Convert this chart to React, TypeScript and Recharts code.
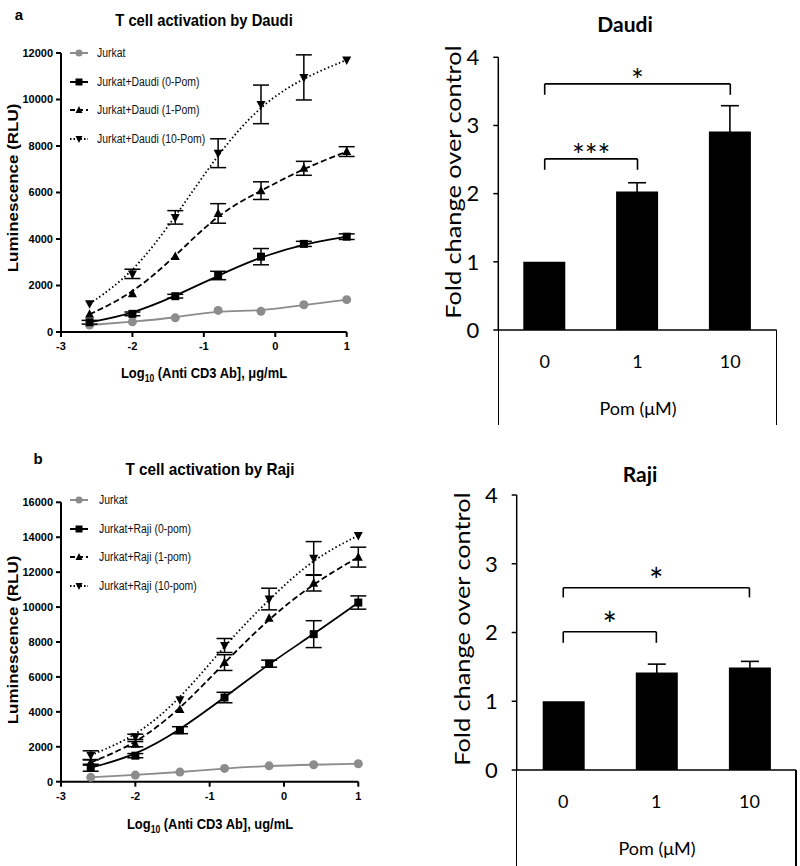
import React from 'react';
import { ComposedChart, Line, XAxis, YAxis, ErrorBar, Bar, ReferenceLine } from 'recharts';

// ---------- data ----------
const logDose = [-2.6, -2, -1.4, -0.8, -0.2, 0.4, 1];
const doseTicks = [-3, -2, -1, 0, 1];

const daudiJurkat = [300, 440, 610, 930, 890, 1170, 1390];
const daudiPom0 = [420, 780, 1540, 2430, 3240, 3790, 4100];
const daudiPom0Err = [80, 80, 80, 180, 350, 110, 120];
const daudiPom1 = [760, 1640, 3250, 5100, 6080, 7040, 7760];
const daudiPom1Err = [0, 0, 0, 420, 380, 300, 210];
const daudiPom10 = [1210, 2500, 4930, 7690, 9790, 10950, 11700];
const daudiPom10Err = [0, 200, 290, 620, 830, 970, 0];
const daudiYTicks = [0, 2000, 4000, 6000, 8000, 10000, 12000];

const rajiJurkat = [250, 380, 550, 760, 910, 970, 1030];
const rajiPom0 = [800, 1490, 2950, 4820, 6760, 8450, 10260];
const rajiPom0Err = [200, 120, 200, 300, 200, 770, 380];
const rajiPom1 = [1100, 2150, 4130, 6820, 9360, 11370, 12860];
const rajiPom1Err = [150, 150, 0, 450, 0, 450, 570];
const rajiPom10 = [1520, 2570, 4700, 7800, 10460, 12800, 14100];
const rajiPom10Err = [250, 150, 0, 400, 620, 950, 0];
const rajiYTicks = [0, 2000, 4000, 6000, 8000, 10000, 12000, 14000, 16000];

const daudiLegend = ['Jurkat', 'Jurkat+Daudi (0-Pom)', 'Jurkat+Daudi (1-Pom)', 'Jurkat+Daudi (10-Pom)'];
const rajiLegend = ['Jurkat', 'Jurkat+Raji (0-pom)', 'Jurkat+Raji (1-pom)', 'Jurkat+Raji (10-pom)'];

const pomDoses = ['0', '1', '10'];
const daudiFold = [1.0, 2.03, 2.91];
const daudiFoldErr = [0, 0.13, 0.38];
const rajiFold = [1.0, 1.42, 1.49];
const rajiFoldErr = [0, 0.12, 0.09];
const foldTicks = [0, 1, 2, 3, 4];

const daudiBrackets = [
  { from: '0', to: '1', y: 2.51, drop: 0.16, mark: '***' },
  { from: '0', to: '10', y: 3.61, drop: 0.16, mark: '*' },
];
const rajiBrackets = [
  { from: '0', to: '1', y: 2.01, drop: 0.16, mark: '*' },
  { from: '0', to: '10', y: 2.65, drop: 0.14, mark: '*' },
];

const buildDose = (j: number[], p0: number[], e0: number[], p1: number[], e1: number[], p10: number[], e10: number[]) =>
  logDose.map((x, i) => ({ x, j: j[i], p0: p0[i], e0: e0[i], p1: p1[i], e1: e1[i], p10: p10[i], e10: e10[i] }));

const daudiData = buildDose(daudiJurkat, daudiPom0, daudiPom0Err, daudiPom1, daudiPom1Err, daudiPom10, daudiPom10Err);
const rajiData = buildDose(rajiJurkat, rajiPom0, rajiPom0Err, rajiPom1, rajiPom1Err, rajiPom10, rajiPom10Err);
const daudiBars = pomDoses.map((d, i) => ({ d, v: daudiFold[i], e: daudiFoldErr[i] }));
const rajiBars = pomDoses.map((d, i) => ({ d, v: rajiFold[i], e: rajiFoldErr[i] }));

// ---------- styles ----------
const GRAY = '#8c8c8c';
const ARIAL = '"Liberation Sans", Arial, sans-serif';
const LATO = 'Lato, "Open Sans", sans-serif';

const mkDot = (kind: string) => (p: any) => {
  const { cx, cy, index } = p;
  const k = `${kind}-${index}`;
  if (cx == null || cy == null) return <g key={k} />;
  if (kind === 'circle') return <circle key={k} cx={cx} cy={cy} r={4.5} fill={GRAY} />;
  if (kind === 'square') return <rect key={k} x={cx - 4} y={cy - 4} width={8} height={8} fill="#000" />;
  if (kind === 'up') return <polygon key={k} points={`${cx},${cy - 5} ${cx - 4.5},${cy + 3.5} ${cx + 4.5},${cy + 3.5}`} fill="#000" />;
  return <polygon key={k} points={`${cx},${cy + 5} ${cx - 4.5},${cy - 3.5} ${cx + 4.5},${cy - 3.5}`} fill="#000" />;
};

const LegendIcon = ({ kind }: { kind: string }) => {
  const color = kind === 'circle' ? GRAY : '#000';
  const dash = kind === 'up' ? '5 3' : kind === 'down' ? '1.5 2' : undefined;
  const cx = 9, cy = 6;
  let marker: any;
  if (kind === 'circle') marker = <circle cx={cx} cy={cy} r={3.5} fill={GRAY} />;
  else if (kind === 'square') marker = <rect x={cx - 3.5} y={cy - 3.5} width={7} height={7} fill="#000" />;
  else if (kind === 'up') marker = <polygon points={`${cx},${cy - 4} ${cx - 3.5},${cy + 3} ${cx + 3.5},${cy + 3}`} fill="#000" />;
  else marker = <polygon points={`${cx},${cy + 4} ${cx - 3.5},${cy - 3} ${cx + 3.5},${cy - 3}`} fill="#000" />;
  return (
    <svg width={19} height={12} style={{ display: 'block' }}>
      <line x1={0} y1={cy} x2={18} y2={cy} stroke={color} strokeWidth={2} strokeDasharray={dash} />
      {marker}
    </svg>
  );
};

const kinds = ['circle', 'square', 'up', 'down'];

const DoseLegend = ({ names, x, y, gap, textX }: { names: string[]; x: number; y: number; gap: number; textX: number }) => (
  <div style={{ position: 'absolute', left: x, top: y }}>
    {names.map((n, i) => (
      <div key={n} style={{ position: 'absolute', left: 0, top: i * gap, height: 12, whiteSpace: 'nowrap' }}>
        <LegendIcon kind={kinds[i]} />
        <span
          style={{
            position: 'absolute',
            left: textX,
            top: -1,
            fontFamily: ARIAL,
            fontSize: 12,
            color: '#111',
            lineHeight: '14px',
            transform: 'scaleX(0.87)',
            transformOrigin: 'left center',
          }}
        >
          {n}
        </span>
      </div>
    ))}
  </div>
);

const Txt = ({ x, y, children, style, rot, sx }: any) => (
  <div
    style={{
      position: 'absolute',
      left: x,
      top: y,
      transform: `translate(-50%, -50%)${rot ? ' rotate(-90deg)' : ''}${sx ? ` scaleX(${sx})` : ''}`,
      whiteSpace: 'nowrap',
      lineHeight: 1,
      color: '#000',
      ...style,
    }}
  >
    {children}
  </div>
);

const doseTick = { fontSize: 11, fontWeight: 'bold', fill: '#000', fontFamily: ARIAL };

const DoseChart = ({ data, width, height, margin, yMax, yTicks }: any) => (
  <ComposedChart width={width} height={height} data={data} margin={margin}>
    <XAxis
      type="number"
      dataKey="x"
      domain={[-3, 1]}
      ticks={doseTicks}
      interval={0}
      height={30}
      axisLine={{ stroke: '#000', strokeWidth: 2 }}
      tickLine={{ stroke: '#000', strokeWidth: 2 }}
      tickSize={5}
      tickMargin={5}
      tick={doseTick}
    />
    <YAxis
      type="number"
      domain={[0, yMax]}
      ticks={yTicks}
      interval={0}
      width={50}
      axisLine={{ stroke: '#000', strokeWidth: 2 }}
      tickLine={{ stroke: '#000', strokeWidth: 2 }}
      tickSize={5}
      tickMargin={3}
      tick={doseTick}
    />
    <Line type="basis" dataKey="j" stroke={GRAY} strokeWidth={1.8} dot={mkDot('circle')} isAnimationActive={false} />
    <Line type="basis" dataKey="p0" stroke="#000" strokeWidth={1.8} dot={mkDot('square')} isAnimationActive={false}>
      <ErrorBar dataKey="e0" direction="y" width={8} stroke="#000" strokeWidth={1.5} />
    </Line>
    <Line type="basis" dataKey="p1" stroke="#000" strokeWidth={1.8} strokeDasharray="6 3" dot={mkDot('up')} isAnimationActive={false}>
      <ErrorBar dataKey="e1" direction="y" width={8} stroke="#000" strokeWidth={1.5} />
    </Line>
    <Line type="basis" dataKey="p10" stroke="#000" strokeWidth={1.8} strokeDasharray="1.5 2.5" dot={mkDot('down')} isAnimationActive={false}>
      <ErrorBar dataKey="e10" direction="y" width={8} stroke="#000" strokeWidth={1.5} />
    </Line>
  </ComposedChart>
);

const FoldChart = ({ data, width, height, margin, brackets, starSize, starOffset }: any) => (
  <ComposedChart width={width} height={height} data={data} margin={margin}>
    <XAxis
      type="category"
      dataKey="d"
      height={30}
      axisLine={{ stroke: '#000', strokeWidth: 1.5 }}
      tickLine={false}
      tickSize={0}
      tickMargin={25}
      tick={{ fontSize: 18, fill: '#000', fontFamily: LATO }}
    />
    <YAxis
      type="number"
      domain={[0, 4]}
      ticks={foldTicks}
      interval={0}
      width={40}
      axisLine={{ stroke: '#000', strokeWidth: 1.5 }}
      tickLine={{ stroke: '#000', strokeWidth: 1.5 }}
      tickSize={5}
      tickMargin={14}
      tick={{ fontSize: 22, fill: '#000', fontFamily: LATO }}
    />
    <Bar dataKey="v" fill="#000" barSize={42} isAnimationActive={false}>
      <ErrorBar dataKey="e" direction="y" width={9} stroke="#000" strokeWidth={1.6} />
    </Bar>
    {brackets.map((b: any, i: number) => (
      <ReferenceLine
        key={`h${i}`}
        segment={[{ x: b.from, y: b.y }, { x: b.to, y: b.y }]}
        stroke="#000"
        strokeWidth={1.6}
        ifOverflow="visible"
        label={{ value: b.mark, position: 'top', offset: starOffset, fontSize: starSize, fill: '#000', fontFamily: LATO }}
      />
    ))}
    {brackets.map((b: any, i: number) => (
      <ReferenceLine key={`l${i}`} segment={[{ x: b.from, y: b.y }, { x: b.from, y: b.y - b.drop }]} stroke="#000" strokeWidth={1.6} ifOverflow="visible" />
    ))}
    {brackets.map((b: any, i: number) => (
      <ReferenceLine key={`r${i}`} segment={[{ x: b.to, y: b.y }, { x: b.to, y: b.y - b.drop }]} stroke="#000" strokeWidth={1.6} ifOverflow="visible" />
    ))}
  </ComposedChart>
);

const vline = (x: number, y1: number, y2: number) => (
  <div style={{ position: 'absolute', left: x - 0.75, top: y1, width: 1.5, height: y2 - y1, background: '#000' }} />
);

export default function App() {
  const titleStyle = { fontFamily: ARIAL, fontWeight: 'bold', fontSize: 17 };
  const xLblStyle = { fontFamily: ARIAL, fontWeight: 'bold', fontSize: 15 };
  const yLblStyle = { fontFamily: ARIAL, fontWeight: 'bold', fontSize: 15 };
  const foldLbl = { fontFamily: LATO, fontSize: 22 };
  return (
    <div style={{ position: 'absolute', left: 0, top: 0, width: 800, height: 866, background: '#fff', overflow: 'hidden' }}>
      {/* a: Daudi dose response */}
      <div style={{ position: 'absolute', left: 0, top: 0 }}>
        <DoseChart data={daudiData} width={400} height={440} margin={{ top: 53, right: 53.3, bottom: 78, left: 11 }} yMax={12000} yTicks={daudiYTicks} />
      </div>
      <DoseLegend names={daudiLegend} x={70} y={47} gap={28.5} textX={27} />
      <Txt x={19} y={14} style={{ fontFamily: ARIAL, fontWeight: 'bold', fontSize: 15 }}>a</Txt>
      <Txt x={204} y={20} sx={0.87} style={titleStyle}>T cell activation by Daudi</Txt>
      <Txt x={12} y={188} rot sx={1.13} style={yLblStyle}>Luminescence (RLU)</Txt>
      <Txt x={204} y={374} sx={0.86} style={xLblStyle}>
        Log<sub style={{ fontSize: 10 }}>10</sub> (Anti CD3 Ab], μg/mL
      </Txt>

      {/* b: Raji dose response */}
      <div style={{ position: 'absolute', left: 0, top: 440 }}>
        <DoseChart data={rajiData} width={400} height={426} margin={{ top: 62.3, right: 41.7, bottom: 54.3, left: 11 }} yMax={16000} yTicks={rajiYTicks} />
      </div>
      <DoseLegend names={rajiLegend} x={70} y={494} gap={28.7} textX={29} />
      <Txt x={38} y={458} style={{ fontFamily: ARIAL, fontWeight: 'bold', fontSize: 15 }}>b</Txt>
      <Txt x={210} y={469} sx={0.9} style={titleStyle}>T cell activation by Raji</Txt>
      <Txt x={12} y={640} rot sx={1.13} style={yLblStyle}>Luminescence (RLU)</Txt>
      <Txt x={210} y={825} sx={0.86} style={xLblStyle}>
        Log<sub style={{ fontSize: 10 }}>10</sub> (Anti CD3 Ab], ug/mL
      </Txt>

      {/* Daudi fold change */}
      <div style={{ position: 'absolute', left: 400, top: 0 }}>
        <FoldChart data={daudiBars} width={400} height={440} margin={{ top: 57.3, right: 23.3, bottom: 80, left: 58.3 }} brackets={daudiBrackets} starSize={30} starOffset={-7} />
      </div>
      {vline(498.3, 330, 425)}
      {vline(776.7, 330, 425)}
      <Txt x={625} y={23} style={{ fontFamily: LATO, fontWeight: 'bold', fontSize: 21 }}>Daudi</Txt>
      <Txt x={453} y={182} rot sx={1.15} style={foldLbl}>Fold change over control</Txt>
      <Txt x={638} y={408} style={{ fontFamily: LATO, fontSize: 18 }}>Pom (μM)</Txt>

      {/* Raji fold change */}
      <div style={{ position: 'absolute', left: 400, top: 440 }}>
        <FoldChart data={rajiBars} width={400} height={426} margin={{ top: 55, right: 4, bottom: 66, left: 76.7 }} brackets={rajiBrackets} starSize={34} starOffset={-5} />
      </div>
      {vline(516.7, 770, 866)}
      {vline(796, 770, 866)}
      <Txt x={640} y={473} style={{ fontFamily: LATO, fontWeight: 'bold', fontSize: 21 }}>Raji</Txt>
      <Txt x={462} y={629} rot sx={1.15} style={foldLbl}>Fold change over control</Txt>
      <Txt x={657} y={848} style={{ fontFamily: LATO, fontSize: 18 }}>Pom (μM)</Txt>
    </div>
  );
}
